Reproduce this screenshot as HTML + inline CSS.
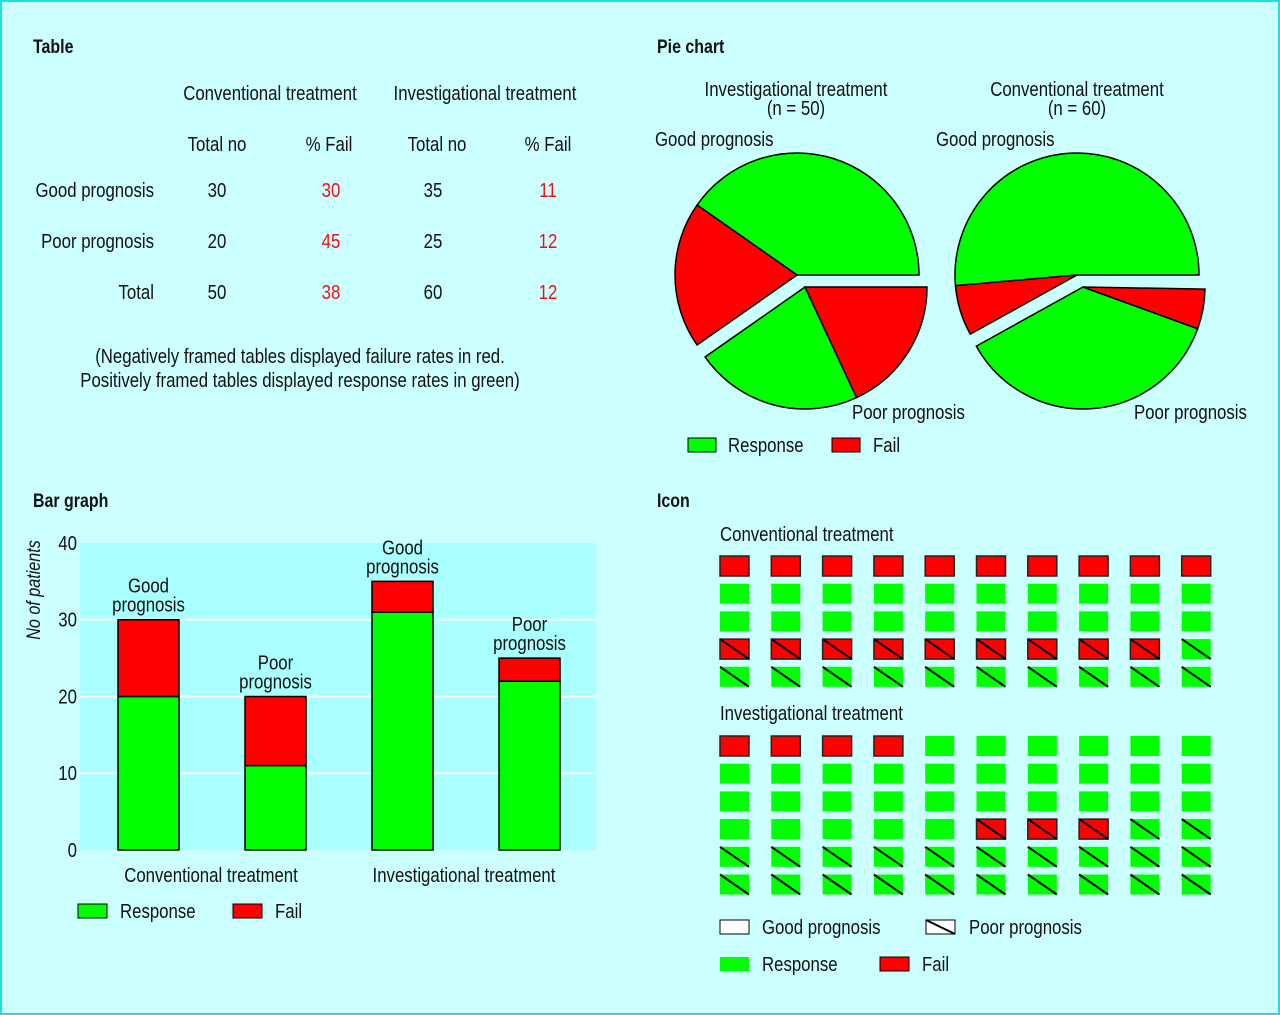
<!DOCTYPE html>
<html><head><meta charset="utf-8">
<style>
html,body{margin:0;padding:0;background:#ccffff;}
svg{display:block;}
text{font-family:"Liberation Sans Narrow","Liberation Sans",sans-serif;font-size:20px;fill:#111;}
.b{font-weight:bold;font-size:19px;}
.r{fill:#ee1111;}
.m{text-anchor:middle;}
.e{text-anchor:end;}
</style></head>
<body>
<svg id="root" width="1280" height="1015" viewBox="0 0 1280 1015">
<rect x="1" y="1" width="1278" height="1013" fill="#ccffff" stroke="#22dddd" stroke-width="2"/>

<!-- TABLE -->
<g>
<text x="33" y="53" class="b">Table</text>
<text x="270" y="100" class="m">Conventional treatment</text>
<text x="485" y="100" class="m">Investigational treatment</text>
<text x="217" y="151" class="m">Total no</text>
<text x="329" y="151" class="m">% Fail</text>
<text x="437" y="151" class="m">Total no</text>
<text x="548" y="151" class="m">% Fail</text>
<text x="154" y="197" class="e">Good prognosis</text>
<text x="154" y="248" class="e">Poor prognosis</text>
<text x="154" y="299" class="e">Total</text>
<text x="217" y="197" class="m">30</text><text x="331" y="197" class="m r">30</text><text x="433" y="197" class="m">35</text><text x="548" y="197" class="m r">11</text>
<text x="217" y="248" class="m">20</text><text x="331" y="248" class="m r">45</text><text x="433" y="248" class="m">25</text><text x="548" y="248" class="m r">12</text>
<text x="217" y="299" class="m">50</text><text x="331" y="299" class="m r">38</text><text x="433" y="299" class="m">60</text><text x="548" y="299" class="m r">12</text>
<text x="300" y="363" class="m">(Negatively framed tables displayed failure rates in red.</text>
<text x="300" y="387" class="m">Positively framed tables displayed response rates in green)</text>
</g>

<!-- PIE -->
<g id="pie">
<text x="657" y="53" class="b">Pie chart</text>
<text x="796" y="96" class="m">Investigational treatment</text>
<text x="796" y="115" class="m">(n = 50)</text>
<text x="1077" y="96" class="m">Conventional treatment</text>
<text x="1077" y="115" class="m">(n = 60)</text>
<text x="655" y="146">Good prognosis</text>
<text x="936" y="146">Good prognosis</text>
<text x="852" y="419">Poor prognosis</text>
<text x="1134" y="419">Poor prognosis</text>
<rect x="688" y="438" width="28" height="14" fill="#00ff00" stroke="#000"/>
<text x="728" y="452">Response</text>
<rect x="832" y="438" width="28" height="14" fill="#ff0000" stroke="#000"/>
<text x="873" y="452">Fail</text>
</g>

<!-- BAR -->
<g id="bar">
<text x="33" y="507" class="b">Bar graph</text>
<rect x="80" y="543" width="516" height="307" fill="#aaffff"/>
<text transform="translate(40,590) rotate(-90) scale(0.85,1)" class="m" style="font-style:italic;font-size:19px">No of patients</text>
<text x="211" y="882" class="m">Conventional treatment</text>
<text x="464" y="882" class="m">Investigational treatment</text>
<rect x="78" y="904" width="29" height="14" fill="#00ff00" stroke="#000"/>
<text x="120" y="918">Response</text>
<rect x="233" y="904" width="29" height="14" fill="#ff0000" stroke="#000"/>
<text x="275" y="918">Fail</text>
</g>

<!-- ICON -->
<g id="icon">
<text x="657" y="507" class="b">Icon</text>
<text x="720" y="541">Conventional treatment</text>
<text x="720" y="720">Investigational treatment</text>
<rect x="720" y="920" width="29" height="14" fill="#fff" stroke="#000"/>
<text x="762" y="934">Good prognosis</text>
<rect x="926" y="920" width="29" height="14" fill="#fff" stroke="#000"/>
<line x1="926" y1="920" x2="955" y2="934" stroke="#000" stroke-width="2"/>
<text x="969" y="934">Poor prognosis</text>
<rect x="720" y="957" width="29" height="14" fill="#00ff00"/>
<text x="762" y="971">Response</text>
<rect x="880" y="957" width="29" height="14" fill="#ff0000" stroke="#000"/>
<text x="922" y="971">Fail</text>
</g>
</svg>
<script>
const NS='http://www.w3.org/2000/svg';
function mk(tag,attrs,parent){const e=document.createElementNS(NS,tag);for(const k in attrs)e.setAttribute(k,attrs[k]);parent.appendChild(e);return e;}
const GREEN='#00ff00',RED='#ff0000';

/* ---------- Bar chart data ---------- */
const barCategories=['Good prognosis','Poor prognosis','Good prognosis','Poor prognosis'];
const barResponse=[20,11,31,22];
const barFail=[10,9,4,3];
const yTicks=[0,10,20,30,40];

/* ---------- Pie data (sector sizes in degrees) ---------- */
const pieInvGood=[145,70];   // response, fail
const pieInvPoor=[80,65];    // response, fail
const pieConvGood=[185,24];
const pieConvPoor=[131,19];

/* ---------- Icon data (counts) ---------- */
const iconConv=[10,20,9,11];  // goodFail, goodResponse, poorFail, poorResponse
const iconInv=[4,31,3,22];

/* Bar */
const bar=document.getElementById('bar');
const y0=850,yTop=543,yMax=40;
function ys(v){return y0-(v/yMax)*(y0-yTop);}
const bandX0=85,bandStep=127,barW=61;
function xs(i){return bandX0+33+i*bandStep;}
yTicks.forEach(t=>{
  if(t>0&&t<yMax){const l=mk('line',{x1:80,x2:596,y1:ys(t),y2:ys(t),stroke:'#fff','stroke-width':2},bar);
  
  }
  const tx=mk('text',{x:77,y:ys(t)+7,class:'e'},bar);tx.textContent=t;
  
  
});
barCategories.forEach((c,i)=>{
  const x=xs(i),tot=barResponse[i]+barFail[i];
  const g=mk('rect',{x:x,y:ys(barResponse[i]),width:barW,height:ys(0)-ys(barResponse[i]),fill:GREEN,stroke:'#000','stroke-width':1.5},bar);
  
  
  const r=mk('rect',{x:x,y:ys(tot),width:barW,height:ys(barResponse[i])-ys(tot),fill:RED,stroke:'#000','stroke-width':1.5},bar);
  
  
  const w=c.split(' ');
  const t1=mk('text',{x:x+barW/2,y:ys(tot)-27,class:'m'},bar);t1.textContent=w[0];
  
  
  const t2=mk('text',{x:x+barW/2,y:ys(tot)-8,class:'m'},bar);t2.textContent=w[1];
});

/* Pie */
const pie=document.getElementById('pie');
const R=122;
function pt(cx,cy,a){const r=a*Math.PI/180;return [cx+R*Math.cos(r),cy-R*Math.sin(r)];}
function sector(cx,cy,a1,a2,fill,name){
  const p1=pt(cx,cy,a1),p2=pt(cx,cy,a2),large=(a2-a1)>180?1:0;
  const p=mk('path',{d:`M${cx},${cy} L${p1[0]},${p1[1]} A${R},${R} 0 ${large} 0 ${p2[0]},${p2[1]} Z`,fill:fill,stroke:'#000','stroke-width':1.5},pie);
  
  
}
function drawPie(good,poor,gc,pc,tag){
  let a=0;
  sector(gc[0],gc[1],a,a+good[0],GREEN,tag+'-good-response');a+=good[0];
  sector(gc[0],gc[1],a,a+good[1],RED,tag+'-good-fail');a+=good[1];
  sector(pc[0],pc[1],a,a+poor[0],GREEN,tag+'-poor-response');a+=poor[0];
  sector(pc[0],pc[1],a,a+poor[1],RED,tag+'-poor-fail');
}
drawPie(pieInvGood,pieInvPoor,[797,275],[805,287],'pie-investigational');
drawPie(pieConvGood,pieConvPoor,[1077,275],[1083,287],'pie-conventional');

/* Icons */
const icon=document.getElementById('icon');
function drawIcons(counts,y0,tag){
  const kinds=[['good','fail'],['good','response'],['poor','fail'],['poor','response']];
  let n=0;
  counts.forEach((c,k)=>{
    for(let j=0;j<c;j++){
      const col=n%10,row=Math.floor(n/10);
      const x=720+col*51.3,y=y0+row*27.7;
      const fail=kinds[k][1]==='fail';
      const r=mk('rect',{x:x,y:y,width:29,height:20,fill:fail?RED:GREEN,stroke:fail?'#222':'none','stroke-width':1.5},icon);
      
      
      if(kinds[k][0]==='poor'){mk('line',{x1:x,y1:y,x2:x+29,y2:y+20,stroke:'#000','stroke-width':2},icon);}
      n++;
    }
  });
}
drawIcons(iconConv,556,'conventional');
drawIcons(iconInv,736,'investigational');

/* condense text horizontally to mimic narrow typeface */
document.querySelectorAll('#root text').forEach(t=>{
  if(t.getAttribute('transform'))return;
  const x=parseFloat(t.getAttribute('x'));
  t.setAttribute('transform',`translate(${x},0) scale(0.84,1) translate(${-x},0)`);
});
</script>
</body></html>
